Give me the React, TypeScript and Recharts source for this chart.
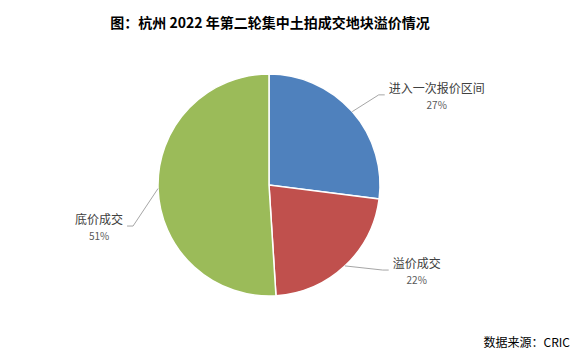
import React from 'react';
import { PieChart, Pie, Cell } from 'recharts';

const categories = ['进入一次报价区间', '溢价成交', '底价成交'];
const shares = [27, 22, 51];
const colors = ['#4F81BD', '#C0504D', '#9BBB59'];

const data = categories.map((name, i) => ({ name, value: shares[i] }));

const RADIAN = Math.PI / 180;
const font = '"Noto Sans CJK SC", "Microsoft YaHei", sans-serif';
// excel-style nudges of the label elbows away from the slice middles (degrees)
const labelShift = [-2, 10, 15];

const renderLabel = (props: any) => {
  const { cx, cy, midAngle, outerRadius, index } = props;
  const a = (midAngle + labelShift[index]) * RADIAN;
  const sx = cx + outerRadius * Math.cos(-midAngle * RADIAN);
  const sy = cy + outerRadius * Math.sin(-midAngle * RADIAN);
  const mx = cx + (outerRadius + 31) * Math.cos(-a);
  const my = cy + (outerRadius + 31) * Math.sin(-a);
  const right = Math.cos(-a) >= 0;
  const ex = mx + (right ? 6 : -6);
  const name = categories[index];
  const half = (name.length * 12) / 2;
  const tx = ex + (right ? half + 4 : -half - 4);
  return (
    <g>
      <polyline
        points={`${sx},${sy} ${mx},${my} ${ex},${my}`}
        fill="none"
        stroke="#A6A6A6"
        strokeWidth={1}
      />
      <text x={tx} y={my - 2} textAnchor="middle" fontSize={12} fill="#404040" fontFamily={font}>
        {name}
      </text>
      <text x={tx} y={my + 14} textAnchor="middle" fontSize={10} fill="#595959" fontFamily={font}>
        {shares[index]}%
      </text>
    </g>
  );
};

export default function App() {
  return (
    <div style={{ position: 'absolute', left: 0, top: 0, width: 580, height: 354, background: '#fff' }}>
      <div
        style={{
          position: 'absolute',
          left: 0,
          top: 12,
          width: 540,
          textAlign: 'center',
          fontFamily: font,
          fontWeight: 'bold',
          fontSize: 14,
          color: '#000',
        }}
      >
        图：杭州 2022 年第二轮集中土拍成交地块溢价情况
      </div>
      <PieChart width={580} height={354} margin={{ top: 0, right: 0, bottom: 0, left: 0 }}>
        <Pie
          data={data}
          dataKey="value"
          nameKey="name"
          cx={269}
          cy={185}
          outerRadius={111}
          startAngle={90}
          endAngle={-270}
          stroke="#FFFFFF"
          strokeWidth={1.5}
          label={renderLabel}
          labelLine={false}
          isAnimationActive={false}
        >
          {data.map((d, i) => (
            <Cell key={d.name} fill={colors[i]} />
          ))}
        </Pie>
      </PieChart>
      <div
        style={{
          position: 'absolute',
          right: 10,
          top: 333,
          fontFamily: font,
          fontSize: 12,
          color: '#000',
        }}
      >
        数据来源：CRIC
      </div>
    </div>
  );
}
